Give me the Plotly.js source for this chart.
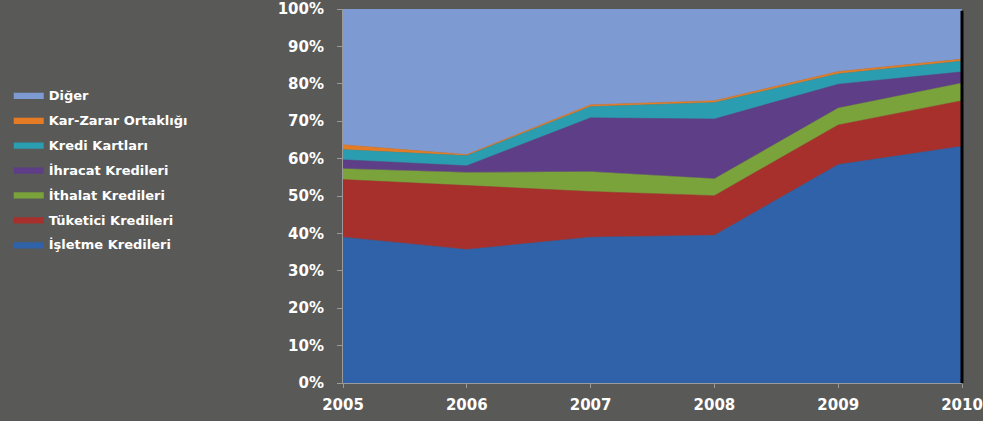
<!DOCTYPE html>
<html>
<head>
<meta charset="utf-8">
<script src="https://cdn.plot.ly/plotly-3.0.1.min.js"></script>
<style>html,body{margin:0;padding:0;background:#595957;}#chart{width:983px;height:421px;}</style>
</head>
<body>
<div id="chart"></div>
<script>
const years = ['2005', '2006', '2007', '2008', '2009', '2010'];
const isletme = [39.0, 35.7, 39.0, 39.5, 58.4, 63.3];
const tuketici = [15.4, 17.1, 12.2, 10.6, 10.6, 12.2];
const ithalat = [2.9, 3.5, 5.3, 4.5, 4.5, 4.7];
const ihracat = [2.4, 1.8, 14.4, 16.0, 6.4, 3.0];
const krediKartlari = [2.7, 2.7, 3.0, 4.4, 2.8, 2.9];
const karZarar = [1.3, 0.3, 0.5, 0.5, 0.6, 0.5];
const diger = [36.3, 38.9, 25.6, 24.5, 16.7, 13.4];
const yTicks = [0, 10, 20, 30, 40, 50, 60, 70, 80, 90, 100];
const yTickLabels = yTicks.map(v => v + '%');

const series = [
  {name: 'İşletme Kredileri', y: isletme, color: '#2f62a8'},
  {name: 'Tüketici Kredileri', y: tuketici, color: '#a8302c'},
  {name: 'İthalat Kredileri', y: ithalat, color: '#7aa33b'},
  {name: 'İhracat Kredileri', y: ihracat, color: '#5f3e88'},
  {name: 'Kredi Kartları', y: krediKartlari, color: '#2b9db0'},
  {name: 'Kar-Zarar Ortaklığı', y: karZarar, color: '#e57c25'},
  {name: 'Diğer', y: diger, color: '#7d9ad2'}
];

const traces = series.map((s, i) => ({
  type: 'scatter',
  mode: 'lines',
  x: years,
  y: s.y,
  name: s.name,
  stackgroup: 'one',
  groupnorm: 'percent',
  legendgroup: 'g' + i,
  legendrank: 100 - i,
  line: {width: 0.5, color: s.color},
  fillcolor: s.color,
  hoverinfo: 'skip'
}));

const tickFont = {family: 'DejaVu Sans', size: 15, color: '#ffffff', weight: 'bold'};

Plotly.newPlot('chart', traces, {
  width: 983,
  height: 421,
  paper_bgcolor: '#595957',
  plot_bgcolor: '#595957',
  margin: {l: 343, r: 21, t: 9, b: 38},
  font: {family: 'DejaVu Sans', size: 12, color: '#ffffff'},
  showlegend: true,
  legend: {
    x: -0.54, xanchor: 'left', y: 0.81, yanchor: 'top',
    traceorder: 'grouped',
    tracegroupgap: 5,
    font: {family: 'DejaVu Sans', size: 13, color: '#ffffff', weight: 'bold'},
    bgcolor: 'rgba(0,0,0,0)',
    itemwidth: 30
  },
  xaxis: {
    type: 'category',
    range: [0, 5],
    showgrid: false,
    zeroline: false,
    showline: true,
    linecolor: '#9a9a9a',
    linewidth: 1,
    ticks: 'outside',
    ticklen: 4,
    tickcolor: '#9a9a9a',
    ticklabelstandoff: 4,
    automargin: false,
    tickfont: tickFont
  },
  yaxis: {
    range: [0, 100],
    tickvals: yTicks,
    ticktext: yTickLabels,
    showgrid: false,
    zeroline: false,
    showline: true,
    linecolor: '#9a9a9a',
    linewidth: 1,
    ticks: 'outside',
    ticklen: 5,
    tickcolor: '#9a9a9a',
    ticklabelstandoff: 10,
    automargin: false,
    tickfont: tickFont
  },
  shapes: [{
    type: 'line', xref: 'paper', yref: 'paper',
    x0: 1, x1: 1, y0: 0, y1: 0.995,
    line: {color: '#000000', width: 3}
  }]
}, {displayModeBar: false, staticPlot: true});
</script>
</body>
</html>
